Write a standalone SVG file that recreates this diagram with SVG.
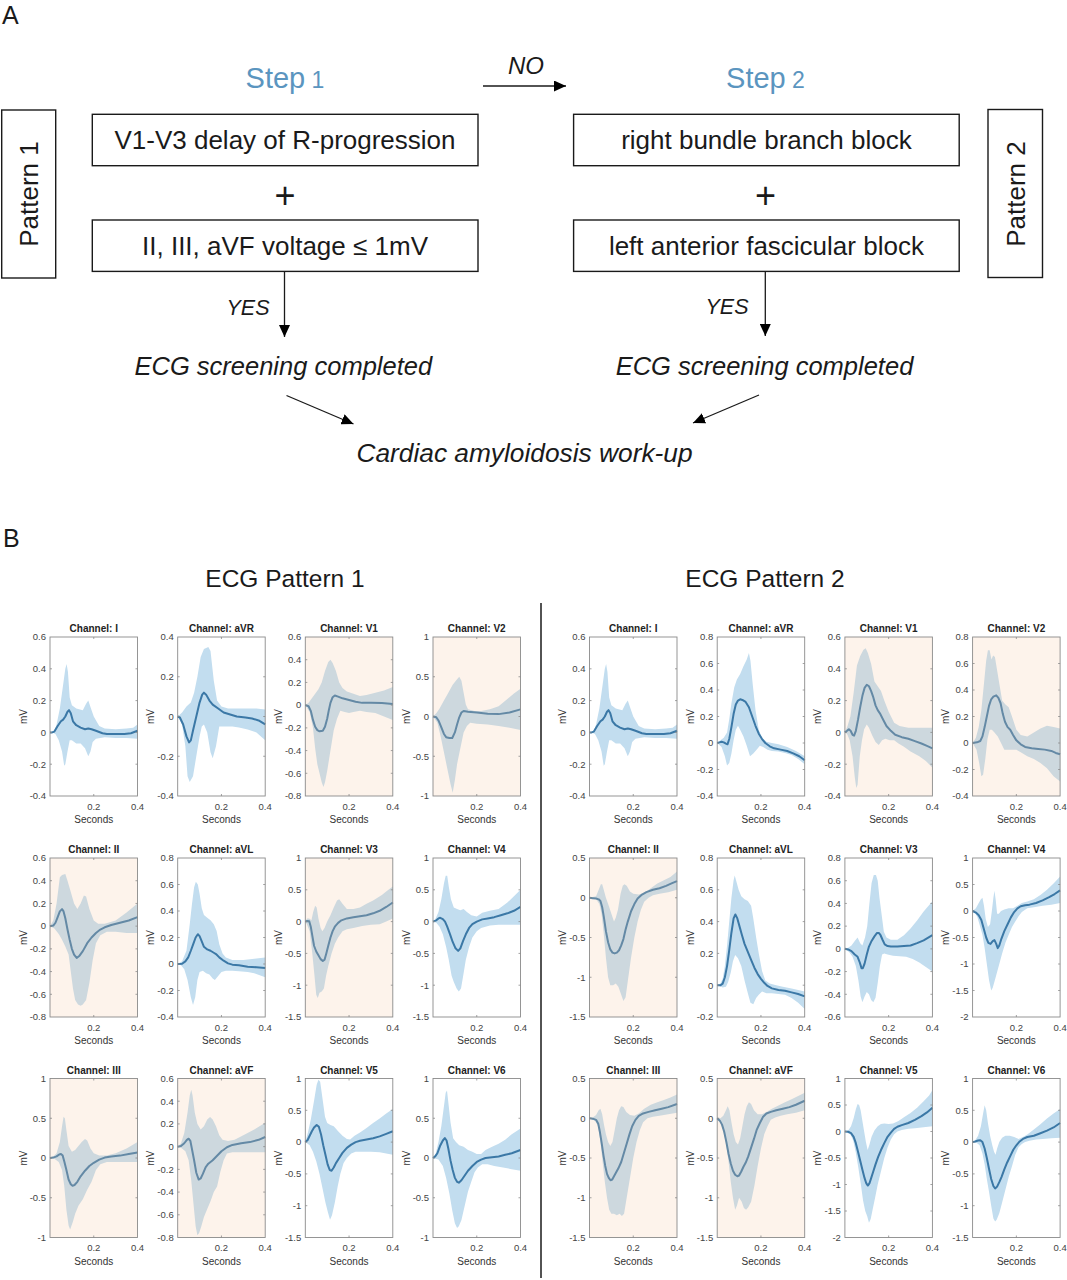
<svg xmlns="http://www.w3.org/2000/svg" xmlns:xlink="http://www.w3.org/1999/xlink" width="1067" height="1280" viewBox="0 0 1067 1280">
<style>
text{font-family:"Liberation Sans",Arial,sans-serif}
.box{fill:none;stroke:#1a1a1a;stroke-width:1.4}
.bt{font-size:26px;fill:#1a1a1a;text-anchor:middle}
.it{font-style:italic}
.step{fill:#5b95bf;text-anchor:middle;font-size:29px}
.cn{stroke:#1a1a1a;stroke-width:1.3;fill:none;marker-end:url(#ah)}
.bd{fill:#c2ddef;stroke:none}
.mn{fill:none;stroke:#3b78a6;stroke-width:2;stroke-linejoin:round;vector-effect:non-scaling-stroke}
.pch{fill:rgb(245,200,165);opacity:0.22}
.ax{fill:none;stroke:#8a8a8a;stroke-width:0.9}
.tkm{fill:none;stroke:#8a8a8a;stroke-width:0.8}
.ttl{font-size:10px;font-weight:bold;fill:#222;text-anchor:middle}
.yt{font-size:9.5px;fill:#444;text-anchor:end}
.xt{font-size:9.5px;fill:#444;text-anchor:middle}
.lab{font-size:10px;fill:#333;text-anchor:middle}
</style>
<defs>
<marker id="ah" viewBox="0 0 12 11" refX="12" refY="5.5" markerWidth="12" markerHeight="11" markerUnits="userSpaceOnUse" orient="auto"><path d="M0,0 L12,5.5 L0,11 z" fill="#000"/></marker>
<path id="tA" class="tkm" d="M0,31.8h2M0,63.6h2M0,95.4h2M0,127.2h2M87.5,31.8h-2M87.5,63.6h-2M87.5,95.4h-2M87.5,127.2h-2M43.75,159v-2M43.75,0v2"/>
<path id="tB" class="tkm" d="M0,39.75h2M0,79.5h2M0,119.25h2M87.5,39.75h-2M87.5,79.5h-2M87.5,119.25h-2M43.75,159v-2M43.75,0v2"/>
<path id="tC" class="tkm" d="M0,22.71h2M0,45.43h2M0,68.14h2M0,90.86h2M0,113.57h2M0,136.29h2M87.5,22.71h-2M87.5,45.43h-2M87.5,68.14h-2M87.5,90.86h-2M87.5,113.57h-2M87.5,136.29h-2M43.75,159v-2M43.75,0v2"/>
<path id="tE" class="tkm" d="M0,26.5h2M0,53h2M0,79.5h2M0,106h2M0,132.5h2M87.5,26.5h-2M87.5,53h-2M87.5,79.5h-2M87.5,106h-2M87.5,132.5h-2M43.75,159v-2M43.75,0v2"/>
</defs>
<rect width="1067" height="1280" fill="#fff"/>

<!-- Panel A -->
<text x="2" y="24" style="font-size:25px" fill="#1a1a1a">A</text>
<g id="step1"><text class="step" x="285" y="88">Step<tspan style="font-size:23px"> 1</tspan></text></g>
<g id="step2"><text class="step" x="765.5" y="88">Step<tspan style="font-size:23px"> 2</tspan></text></g>

<g id="pattern1"><rect class="box" x="1.7" y="110" width="54" height="168"/><text class="bt" transform="translate(38,194) rotate(-90)">Pattern 1</text></g>
<g id="pattern2"><rect class="box" x="988" y="109.5" width="54.5" height="168"/><text class="bt" transform="translate(1024.5,194) rotate(-90)">Pattern 2</text></g>

<g id="n-v1v3"><rect class="box" x="92.3" y="114.3" width="385.7" height="51.4"/><text class="bt" x="285" y="149">V1-V3 delay of R-progression</text></g>
<g id="plus1"><text class="bt" x="285" y="208" style="font-size:36px">+</text></g>
<g id="n-voltage"><rect class="box" x="92.3" y="220" width="385.7" height="51.4"/><text class="bt" x="285" y="254.5">II, III, aVF voltage ≤ 1mV</text></g>

<g id="n-rbbb"><rect class="box" x="573.6" y="114.3" width="385.6" height="51.4"/><text class="bt" x="766.4" y="149">right bundle branch block</text></g>
<g id="plus2"><text class="bt" x="765.5" y="208" style="font-size:36px">+</text></g>
<g id="n-lafb"><rect class="box" x="573.6" y="220" width="385.6" height="51.4"/><text class="bt" x="766.4" y="254.5">left anterior fascicular block</text></g>

<g id="n-ecg1"><text class="bt it" x="283.3" y="375" style="font-size:25.5px">ECG screening completed</text></g>
<g id="n-ecg2"><text class="bt it" x="764.5" y="374.5" style="font-size:25.5px">ECG screening completed</text></g>
<g id="n-ca"><text class="bt it" x="524.5" y="461.5" style="font-size:26.3px">Cardiac amyloidosis work-up</text></g>

<g id="connectors">
<line class="cn" x1="483" y1="86" x2="566" y2="86"/>
<line class="cn" x1="284.5" y1="271.4" x2="284.5" y2="337"/>
<line class="cn" x1="765.3" y1="271.4" x2="765.3" y2="336"/>
<line class="cn" x1="286.5" y1="395.5" x2="353.5" y2="424"/>
<line class="cn" x1="759" y1="395" x2="693" y2="423"/>
<text class="bt it" x="526" y="74" style="font-size:24px">NO</text>
<text class="bt it" x="248" y="315" style="font-size:21.5px">YES</text>
<text class="bt it" x="727" y="314" style="font-size:21.5px">YES</text>
</g>

<!-- Panel B -->
<text x="3" y="547" style="font-size:25px" fill="#1a1a1a">B</text>
<text class="bt" x="285" y="586.5" style="font-size:24.5px">ECG Pattern 1</text>
<text class="bt" x="765" y="586.5" style="font-size:24.5px">ECG Pattern 2</text>
<line x1="541" y1="603" x2="541" y2="1278" stroke="#1a1a1a" stroke-width="1.5"/>

<!-- ===== Pattern 1 ===== -->
<g id="p1-I" transform="translate(50,637)">
<g transform="translate(0,95.4) scale(0.21875,-159)">
<polygon class="bd" points="0,0 20,0.01 30,0.05 45,0.15 60,0.3 70,0.4 76,0.43 82,0.38 90,0.22 100,0.17 120,0.15 150,0.14 165,0.18 175,0.2 185,0.16 200,0.1 225,0.04 250,0.025 300,0.02 350,0.025 380,0.03 400,0.05 400,-0.04 350,-0.035 300,-0.035 250,-0.03 210,-0.04 195,-0.06 185,-0.12 175,-0.15 160,-0.1 140,-0.07 120,-0.07 100,-0.05 90,-0.05 80,-0.12 70,-0.2 65,-0.21 55,-0.12 40,-0.05 25,-0.01 10,0"/>
<polyline class="mn" points="0,0 10,0 20,0.005 35,0.04 50,0.07 60,0.08 70,0.1 80,0.13 87,0.14 95,0.12 105,0.07 120,0.045 140,0.03 160,0.02 175,0.025 190,0.02 210,0.01 240,-0.005 260,-0.01 300,-0.01 340,-0.01 370,-0.005 400,0.01"/>
</g>
<rect class="ax" width="87.5" height="159"/><use href="#tA"/>
<text class="ttl" x="43.75" y="-5">Channel: I</text>
<text class="yt" x="-4" y="3.3">0.6</text><text class="yt" x="-4" y="35.1">0.4</text><text class="yt" x="-4" y="66.9">0.2</text><text class="yt" x="-4" y="98.7">0</text><text class="yt" x="-4" y="130.5">-0.2</text><text class="yt" x="-4" y="162.3">-0.4</text>
<text class="xt" x="43.75" y="172.6">0.2</text><text class="xt" x="87.5" y="172.6">0.4</text>
<text class="lab" x="43.75" y="186">Seconds</text><text class="lab" transform="translate(-23.5,79.5) rotate(-90)">mV</text>
</g>

<g id="p1-aVR" transform="translate(177.7,637)">
<g transform="translate(0,79.5) scale(0.21875,-198.75)">
<polygon class="bd" points="0,0 20,0.02 40,0.05 60,0.07 75,0.12 90,0.2 105,0.3 120,0.34 140,0.35 150,0.33 165,0.18 180,0.08 200,0.05 230,0.04 300,0.04 360,0.04 400,0.035 400,-0.12 360,-0.08 320,-0.065 280,-0.055 250,-0.05 210,-0.05 190,-0.05 175,-0.15 160,-0.21 150,-0.18 135,-0.08 120,-0.04 110,-0.05 100,-0.1 85,-0.2 70,-0.3 55,-0.33 45,-0.3 35,-0.15 20,-0.04"/>
<polyline class="mn" points="0,0 10,-0.005 25,-0.04 40,-0.1 52,-0.13 60,-0.12 70,-0.07 85,0 100,0.07 112,0.11 120,0.12 130,0.11 145,0.08 160,0.06 185,0.04 210,0.02 240,0.01 270,0 310,-0.005 340,-0.01 370,-0.02 400,-0.04"/>
</g>
<rect class="ax" width="87.5" height="159"/><use href="#tB"/>
<text class="ttl" x="43.75" y="-5">Channel: aVR</text>
<text class="yt" x="-4" y="3.3">0.4</text><text class="yt" x="-4" y="43.05">0.2</text><text class="yt" x="-4" y="82.8">0</text><text class="yt" x="-4" y="122.55">-0.2</text><text class="yt" x="-4" y="162.3">-0.4</text>
<text class="xt" x="43.75" y="172.6">0.2</text><text class="xt" x="87.5" y="172.6">0.4</text>
<text class="lab" x="43.75" y="186">Seconds</text><text class="lab" transform="translate(-23.5,79.5) rotate(-90)">mV</text>
</g>

<g id="p1-V1" transform="translate(305.3,637)">
<g transform="translate(0,68.143) scale(0.21875,-113.571)">
<polygon class="bd" points="0,0 15,0.02 30,0.06 45,0.1 60,0.14 75,0.2 90,0.3 105,0.38 115,0.4 125,0.37 140,0.3 155,0.2 170,0.15 190,0.12 220,0.1 250,0.08 280,0.09 320,0.11 360,0.13 400,0.16 400,-0.13 360,-0.1 320,-0.07 280,-0.06 250,-0.05 220,-0.06 200,-0.07 180,-0.06 160,-0.05 145,-0.12 130,-0.22 115,-0.4 100,-0.58 90,-0.68 83,-0.72 75,-0.68 65,-0.6 55,-0.52 45,-0.38 35,-0.2 20,-0.06"/>
<polyline class="mn" points="0,0 15,-0.01 25,-0.05 35,-0.13 45,-0.19 55,-0.22 65,-0.23 80,-0.225 90,-0.19 100,-0.12 108,-0.04 115,0.02 125,0.07 135,0.085 150,0.075 170,0.06 200,0.045 230,0.03 260,0.02 300,0.02 350,0.018 400,0.01"/>
</g>
<rect class="pch" width="87.5" height="159"/>
<rect class="ax" width="87.5" height="159"/><use href="#tC"/>
<text class="ttl" x="43.75" y="-5">Channel: V1</text>
<text class="yt" x="-4" y="3.3">0.6</text><text class="yt" x="-4" y="26">0.4</text><text class="yt" x="-4" y="48.7">0.2</text><text class="yt" x="-4" y="71.4">0</text><text class="yt" x="-4" y="94.2">-0.2</text><text class="yt" x="-4" y="116.9">-0.4</text><text class="yt" x="-4" y="139.6">-0.6</text><text class="yt" x="-4" y="162.3">-0.8</text>
<text class="xt" x="43.75" y="172.6">0.2</text><text class="xt" x="87.5" y="172.6">0.4</text>
<text class="lab" x="43.75" y="186">Seconds</text><text class="lab" transform="translate(-23.5,79.5) rotate(-90)">mV</text>
</g>

<g id="p1-V2" transform="translate(433,637)">
<g transform="translate(0,79.5) scale(0.21875,-79.5)">
<polygon class="bd" points="0,0 15,0.04 30,0.1 50,0.2 70,0.3 90,0.4 110,0.47 120,0.5 130,0.45 140,0.3 150,0.15 160,0.09 190,0.07 220,0.07 260,0.09 300,0.13 340,0.22 370,0.29 400,0.35 400,-0.17 350,-0.14 300,-0.12 250,-0.1 200,-0.09 170,-0.08 155,-0.12 140,-0.2 125,-0.4 110,-0.6 100,-0.8 90,-0.96 80,-0.85 65,-0.65 50,-0.45 35,-0.25 20,-0.08"/>
<polyline class="mn" points="0,0 15,-0.01 25,-0.05 40,-0.15 50,-0.22 60,-0.26 75,-0.27 88,-0.27 100,-0.2 110,-0.1 120,-0.01 130,0.05 140,0.07 160,0.06 200,0.05 250,0.035 300,0.03 350,0.05 400,0.09"/>
</g>
<rect class="pch" width="87.5" height="159"/>
<rect class="ax" width="87.5" height="159"/><use href="#tB"/>
<text class="ttl" x="43.75" y="-5">Channel: V2</text>
<text class="yt" x="-4" y="3.3">1</text><text class="yt" x="-4" y="43.05">0.5</text><text class="yt" x="-4" y="82.8">0</text><text class="yt" x="-4" y="122.55">-0.5</text><text class="yt" x="-4" y="162.3">-1</text>
<text class="xt" x="43.75" y="172.6">0.2</text><text class="xt" x="87.5" y="172.6">0.4</text>
<text class="lab" x="43.75" y="186">Seconds</text><text class="lab" transform="translate(-23.5,79.5) rotate(-90)">mV</text>
</g>

<g id="p1-II" transform="translate(50,858)">
<g transform="translate(0,68.143) scale(0.21875,-113.571)">
<polygon class="bd" points="0,0 15,0.05 30,0.2 45,0.43 55,0.45 70,0.46 80,0.4 95,0.3 110,0.2 125,0.15 140,0.2 155,0.27 165,0.26 180,0.15 200,0.05 220,0.02 250,0.02 300,0.05 350,0.12 400,0.2 400,-0.06 350,-0.06 300,-0.05 260,-0.05 230,-0.08 210,-0.15 195,-0.3 180,-0.5 165,-0.65 150,-0.69 140,-0.7 128,-0.69 115,-0.65 105,-0.55 95,-0.4 85,-0.25 70,-0.18 55,-0.12 40,-0.07 20,-0.02"/>
<polyline class="mn" points="0,0 15,0.005 25,0.03 35,0.08 45,0.13 55,0.15 62,0.13 70,0.07 80,-0.03 90,-0.12 100,-0.2 110,-0.25 122,-0.28 135,-0.26 150,-0.22 170,-0.15 190,-0.1 210,-0.06 230,-0.03 250,-0.01 280,0.01 320,0.03 360,0.05 400,0.08"/>
</g>
<rect class="pch" width="87.5" height="159"/>
<rect class="ax" width="87.5" height="159"/><use href="#tC"/>
<text class="ttl" x="43.75" y="-5">Channel: II</text>
<text class="yt" x="-4" y="3.3">0.6</text><text class="yt" x="-4" y="26">0.4</text><text class="yt" x="-4" y="48.7">0.2</text><text class="yt" x="-4" y="71.4">0</text><text class="yt" x="-4" y="94.2">-0.2</text><text class="yt" x="-4" y="116.9">-0.4</text><text class="yt" x="-4" y="139.6">-0.6</text><text class="yt" x="-4" y="162.3">-0.8</text>
<text class="xt" x="43.75" y="172.6">0.2</text><text class="xt" x="87.5" y="172.6">0.4</text>
<text class="lab" x="43.75" y="186">Seconds</text><text class="lab" transform="translate(-23.5,79.5) rotate(-90)">mV</text>
</g>

<g id="p1-aVL" transform="translate(177.7,858)">
<g transform="translate(0,106) scale(0.21875,-132.5)">
<polygon class="bd" points="0,0 20,0.02 40,0.1 55,0.3 65,0.45 75,0.58 83,0.62 92,0.6 100,0.53 110,0.42 120,0.37 135,0.35 150,0.33 165,0.3 178,0.25 190,0.15 205,0.08 220,0.05 250,0.03 300,0.03 350,0.04 400,0.05 400,-0.1 350,-0.07 320,-0.06 280,-0.055 250,-0.05 220,-0.05 200,-0.06 185,-0.09 170,-0.12 160,-0.11 145,-0.08 130,-0.07 115,-0.05 100,-0.06 90,-0.12 80,-0.25 70,-0.31 60,-0.25 45,-0.12 30,-0.04 15,-0.01"/>
<polyline class="mn" points="0,0 20,0.002 35,0.02 48,0.05 60,0.1 71,0.15 82,0.2 92,0.225 100,0.21 110,0.17 120,0.13 135,0.11 150,0.1 165,0.085 175,0.075 190,0.05 210,0.025 230,0.005 250,-0.005 280,-0.01 320,-0.02 360,-0.025 400,-0.03"/>
</g>
<rect class="ax" width="87.5" height="159"/><use href="#tE"/>
<text class="ttl" x="43.75" y="-5">Channel: aVL</text>
<text class="yt" x="-4" y="3.3">0.8</text><text class="yt" x="-4" y="29.8">0.6</text><text class="yt" x="-4" y="56.3">0.4</text><text class="yt" x="-4" y="82.8">0.2</text><text class="yt" x="-4" y="109.3">0</text><text class="yt" x="-4" y="135.8">-0.2</text><text class="yt" x="-4" y="162.3">-0.4</text>
<text class="xt" x="43.75" y="172.6">0.2</text><text class="xt" x="87.5" y="172.6">0.4</text>
<text class="lab" x="43.75" y="186">Seconds</text><text class="lab" transform="translate(-23.5,79.5) rotate(-90)">mV</text>
</g>

<g id="p1-V3" transform="translate(305.3,858)">
<g transform="translate(0,63.6) scale(0.21875,-63.6)">
<polygon class="bd" points="0,0 8,0.05 18,0.05 28,0.02 36,0.15 45,0.25 52,0.22 60,0.05 70,-0.1 78,-0.15 88,-0.1 100,0 115,0.1 130,0.22 145,0.33 155,0.35 170,0.28 190,0.2 220,0.2 250,0.22 280,0.28 310,0.33 350,0.42 380,0.5 400,0.55 400,0.05 370,0 340,-0.04 300,-0.05 260,-0.07 220,-0.1 190,-0.12 170,-0.15 150,-0.25 135,-0.35 120,-0.5 105,-0.7 95,-0.85 85,-1.05 75,-1.1 65,-1.12 57,-1.2 50,-1.15 42,-0.85 32,-0.5 20,-0.15 8,-0.05"/>
<polyline class="mn" points="0,0 8,0.01 18,0.005 25,-0.08 32,-0.22 40,-0.38 50,-0.47 60,-0.53 70,-0.59 80,-0.62 88,-0.6 96,-0.5 105,-0.38 115,-0.25 125,-0.15 135,-0.08 150,-0.02 165,0.02 190,0.05 220,0.07 250,0.085 280,0.1 310,0.13 340,0.17 370,0.23 400,0.3"/>
</g>
<rect class="pch" width="87.5" height="159"/>
<rect class="ax" width="87.5" height="159"/><use href="#tA"/>
<text class="ttl" x="43.75" y="-5">Channel: V3</text>
<text class="yt" x="-4" y="3.3">1</text><text class="yt" x="-4" y="35.1">0.5</text><text class="yt" x="-4" y="66.9">0</text><text class="yt" x="-4" y="98.7">-0.5</text><text class="yt" x="-4" y="130.5">-1</text><text class="yt" x="-4" y="162.3">-1.5</text>
<text class="xt" x="43.75" y="172.6">0.2</text><text class="xt" x="87.5" y="172.6">0.4</text>
<text class="lab" x="43.75" y="186">Seconds</text><text class="lab" transform="translate(-23.5,79.5) rotate(-90)">mV</text>
</g>

<g id="p1-V4" transform="translate(433,858)">
<g transform="translate(0,63.6) scale(0.21875,-63.6)">
<polygon class="bd" points="0,0 12,0.05 25,0.15 38,0.35 50,0.6 58,0.72 65,0.72 72,0.55 82,0.35 95,0.22 110,0.2 125,0.18 140,0.2 155,0.15 175,0.1 200,0.08 225,0.14 260,0.17 300,0.2 340,0.3 370,0.4 400,0.5 400,-0.05 350,-0.05 300,-0.05 260,-0.06 220,-0.1 200,-0.15 180,-0.25 165,-0.4 150,-0.6 138,-0.85 128,-1.05 118,-1.1 108,-1.05 95,-0.95 85,-0.85 72,-0.6 60,-0.4 45,-0.2 30,-0.08 15,-0.02"/>
<polyline class="mn" points="0,0 15,0.02 25,0.05 33,0.06 45,0.04 55,0 65,-0.08 78,-0.2 90,-0.32 103,-0.42 115,-0.46 125,-0.42 138,-0.3 150,-0.2 165,-0.1 180,-0.04 200,0 225,0.035 250,0.05 280,0.07 310,0.1 340,0.13 370,0.17 400,0.23"/>
</g>
<rect class="ax" width="87.5" height="159"/><use href="#tA"/>
<text class="ttl" x="43.75" y="-5">Channel: V4</text>
<text class="yt" x="-4" y="3.3">1</text><text class="yt" x="-4" y="35.1">0.5</text><text class="yt" x="-4" y="66.9">0</text><text class="yt" x="-4" y="98.7">-0.5</text><text class="yt" x="-4" y="130.5">-1</text><text class="yt" x="-4" y="162.3">-1.5</text>
<text class="xt" x="43.75" y="172.6">0.2</text><text class="xt" x="87.5" y="172.6">0.4</text>
<text class="lab" x="43.75" y="186">Seconds</text><text class="lab" transform="translate(-23.5,79.5) rotate(-90)">mV</text>
</g>

<g id="p1-III" transform="translate(50,1078.5)">
<g transform="translate(0,79.5) scale(0.21875,-79.5)">
<polygon class="bd" points="0,0 15,0.02 30,0.06 45,0.2 55,0.4 62,0.52 68,0.5 75,0.35 85,0.15 100,0.08 115,0.1 130,0.15 145,0.2 160,0.24 170,0.22 185,0.12 200,0.06 225,0.03 260,0.03 300,0.06 350,0.12 400,0.2 400,-0.05 350,-0.05 300,-0.05 260,-0.05 230,-0.08 210,-0.15 190,-0.3 170,-0.4 150,-0.52 130,-0.6 115,-0.7 105,-0.8 92,-0.9 85,-0.85 75,-0.65 65,-0.35 55,-0.15 40,-0.05 20,-0.01"/>
<polyline class="mn" points="0,0 15,0.005 30,0.02 42,0.045 50,0.05 58,0.03 66,-0.05 75,-0.15 85,-0.27 95,-0.33 103,-0.35 112,-0.34 125,-0.3 140,-0.23 160,-0.16 180,-0.1 200,-0.06 225,-0.02 250,0.005 280,0.02 320,0.03 360,0.05 400,0.07"/>
</g>
<rect class="pch" width="87.5" height="159"/>
<rect class="ax" width="87.5" height="159"/><use href="#tB"/>
<text class="ttl" x="43.75" y="-5">Channel: III</text>
<text class="yt" x="-4" y="3.3">1</text><text class="yt" x="-4" y="43.05">0.5</text><text class="yt" x="-4" y="82.8">0</text><text class="yt" x="-4" y="122.55">-0.5</text><text class="yt" x="-4" y="162.3">-1</text>
<text class="xt" x="43.75" y="172.6">0.2</text><text class="xt" x="87.5" y="172.6">0.4</text>
<text class="lab" x="43.75" y="186">Seconds</text><text class="lab" transform="translate(-23.5,79.5) rotate(-90)">mV</text>
</g>

<g id="p1-aVF" transform="translate(177.7,1078.5)">
<g transform="translate(0,68.143) scale(0.21875,-113.571)">
<polygon class="bd" points="0,0 15,0.03 30,0.12 45,0.3 55,0.45 62,0.5 68,0.45 78,0.3 90,0.2 105,0.15 120,0.18 135,0.24 148,0.26 160,0.24 175,0.18 190,0.1 205,0.06 230,0.05 260,0.06 300,0.1 350,0.15 400,0.21 400,-0.05 350,-0.05 300,-0.05 250,-0.05 225,-0.06 210,-0.12 195,-0.22 180,-0.35 165,-0.4 150,-0.48 135,-0.55 120,-0.62 108,-0.7 98,-0.76 90,-0.78 82,-0.7 72,-0.5 62,-0.3 50,-0.12 35,-0.04 15,-0.01"/>
<polyline class="mn" points="0,0 15,0.005 30,0.03 42,0.06 50,0.07 58,0.05 66,-0.03 75,-0.12 85,-0.23 96,-0.29 105,-0.28 115,-0.24 128,-0.18 140,-0.15 160,-0.12 180,-0.08 200,-0.04 225,-0.005 250,0.015 290,0.03 330,0.04 370,0.06 400,0.085"/>
</g>
<rect class="pch" width="87.5" height="159"/>
<rect class="ax" width="87.5" height="159"/><use href="#tC"/>
<text class="ttl" x="43.75" y="-5">Channel: aVF</text>
<text class="yt" x="-4" y="3.3">0.6</text><text class="yt" x="-4" y="26">0.4</text><text class="yt" x="-4" y="48.7">0.2</text><text class="yt" x="-4" y="71.4">0</text><text class="yt" x="-4" y="94.2">-0.2</text><text class="yt" x="-4" y="116.9">-0.4</text><text class="yt" x="-4" y="139.6">-0.6</text><text class="yt" x="-4" y="162.3">-0.8</text>
<text class="xt" x="43.75" y="172.6">0.2</text><text class="xt" x="87.5" y="172.6">0.4</text>
<text class="lab" x="43.75" y="186">Seconds</text><text class="lab" transform="translate(-23.5,79.5) rotate(-90)">mV</text>
</g>

<g id="p1-V5" transform="translate(305.3,1078.5)">
<g transform="translate(0,63.6) scale(0.21875,-63.6)">
<polygon class="bd" points="0,0 12,0.15 25,0.35 40,0.65 52,0.9 60,0.98 68,0.95 78,0.7 90,0.4 100,0.3 115,0.27 130,0.25 150,0.17 170,0.1 190,0.05 205,0.04 225,0.1 250,0.15 280,0.22 310,0.3 340,0.37 370,0.45 400,0.52 400,-0.2 370,-0.18 340,-0.16 300,-0.15 260,-0.15 230,-0.15 210,-0.18 190,-0.25 175,-0.33 160,-0.5 148,-0.7 135,-0.95 122,-1.15 113,-1.22 103,-1.1 92,-0.95 80,-0.75 65,-0.5 50,-0.3 35,-0.15 20,-0.05"/>
<polyline class="mn" points="0,0 10,0.03 20,0.1 30,0.17 40,0.23 52,0.27 62,0.24 72,0.12 82,-0.05 92,-0.2 102,-0.35 112,-0.44 120,-0.45 130,-0.4 140,-0.33 155,-0.25 170,-0.17 190,-0.09 210,-0.04 230,0 250,0.02 280,0.04 310,0.06 340,0.09 370,0.13 400,0.17"/>
</g>
<rect class="ax" width="87.5" height="159"/><use href="#tA"/>
<text class="ttl" x="43.75" y="-5">Channel: V5</text>
<text class="yt" x="-4" y="3.3">1</text><text class="yt" x="-4" y="35.1">0.5</text><text class="yt" x="-4" y="66.9">0</text><text class="yt" x="-4" y="98.7">-0.5</text><text class="yt" x="-4" y="130.5">-1</text><text class="yt" x="-4" y="162.3">-1.5</text>
<text class="xt" x="43.75" y="172.6">0.2</text><text class="xt" x="87.5" y="172.6">0.4</text>
<text class="lab" x="43.75" y="186">Seconds</text><text class="lab" transform="translate(-23.5,79.5) rotate(-90)">mV</text>
</g>

<g id="p1-V6" transform="translate(433,1078.5)">
<g transform="translate(0,79.5) scale(0.21875,-79.5)">
<polygon class="bd" points="0,0 12,0.05 25,0.2 38,0.4 50,0.65 58,0.82 64,0.85 70,0.7 80,0.45 92,0.25 105,0.2 120,0.16 140,0.14 160,0.1 180,0.08 200,0.05 220,0.05 240,0.1 270,0.14 300,0.18 330,0.23 360,0.3 400,0.37 400,-0.16 360,-0.14 320,-0.12 280,-0.1 250,-0.08 225,-0.08 205,-0.12 190,-0.18 175,-0.3 160,-0.42 145,-0.6 130,-0.78 118,-0.86 110,-0.88 100,-0.82 88,-0.66 75,-0.45 60,-0.25 45,-0.1 25,-0.02"/>
<polyline class="mn" points="0,0 10,0.02 20,0.06 32,0.15 45,0.22 54,0.25 62,0.22 70,0.12 80,-0.03 90,-0.15 100,-0.25 110,-0.3 118,-0.31 130,-0.28 145,-0.22 160,-0.16 180,-0.1 200,-0.05 220,-0.02 240,0 270,0.01 300,0.02 330,0.04 360,0.06 400,0.1"/>
</g>
<rect class="ax" width="87.5" height="159"/><use href="#tB"/>
<text class="ttl" x="43.75" y="-5">Channel: V6</text>
<text class="yt" x="-4" y="3.3">1</text><text class="yt" x="-4" y="43.05">0.5</text><text class="yt" x="-4" y="82.8">0</text><text class="yt" x="-4" y="122.55">-0.5</text><text class="yt" x="-4" y="162.3">-1</text>
<text class="xt" x="43.75" y="172.6">0.2</text><text class="xt" x="87.5" y="172.6">0.4</text>
<text class="lab" x="43.75" y="186">Seconds</text><text class="lab" transform="translate(-23.5,79.5) rotate(-90)">mV</text>
</g>

<!-- ===== Pattern 2 ===== -->
<g id="p2-I" transform="translate(589.5,637)">
<g transform="translate(0,95.4) scale(0.21875,-159)">
<polygon class="bd" points="0,0 20,0.01 30,0.05 45,0.15 60,0.3 70,0.4 76,0.43 82,0.38 90,0.22 100,0.17 120,0.15 150,0.14 165,0.18 175,0.2 185,0.16 200,0.1 225,0.04 250,0.025 300,0.02 350,0.025 380,0.03 400,0.05 400,-0.04 350,-0.035 300,-0.035 250,-0.03 210,-0.04 195,-0.06 185,-0.12 175,-0.15 160,-0.1 140,-0.07 120,-0.07 100,-0.05 90,-0.05 80,-0.12 70,-0.2 65,-0.21 55,-0.12 40,-0.05 25,-0.01 10,0"/>
<polyline class="mn" points="0,0 10,0 20,0.005 35,0.04 50,0.07 60,0.08 70,0.1 80,0.13 87,0.14 95,0.12 105,0.07 120,0.045 140,0.03 160,0.02 175,0.025 190,0.02 210,0.01 240,-0.005 260,-0.01 300,-0.01 340,-0.01 370,-0.005 400,0.01"/>
</g>
<rect class="ax" width="87.5" height="159"/><use href="#tA"/>
<text class="ttl" x="43.75" y="-5">Channel: I</text>
<text class="yt" x="-4" y="3.3">0.6</text><text class="yt" x="-4" y="35.1">0.4</text><text class="yt" x="-4" y="66.9">0.2</text><text class="yt" x="-4" y="98.7">0</text><text class="yt" x="-4" y="130.5">-0.2</text><text class="yt" x="-4" y="162.3">-0.4</text>
<text class="xt" x="43.75" y="172.6">0.2</text><text class="xt" x="87.5" y="172.6">0.4</text>
<text class="lab" x="43.75" y="186">Seconds</text><text class="lab" transform="translate(-23.5,79.5) rotate(-90)">mV</text>
</g>

<g id="p2-aVR" transform="translate(717.2,637)">
<g transform="translate(0,106) scale(0.21875,-132.5)">
<polygon class="bd" points="0,0 15,0.02 30,0.04 45,0.08 55,0.18 65,0.3 78,0.42 90,0.48 105,0.52 120,0.58 135,0.63 145,0.68 152,0.62 162,0.45 175,0.25 190,0.1 205,0.04 225,0.01 250,0 280,-0.01 320,-0.03 360,-0.06 400,-0.1 400,-0.16 370,-0.12 340,-0.09 310,-0.075 280,-0.065 250,-0.06 230,-0.05 210,-0.03 195,-0.02 180,-0.05 165,-0.08 150,-0.1 135,-0.02 120,0.05 105,0.1 95,0.13 85,0.1 75,0.02 65,-0.08 55,-0.15 45,-0.17 35,-0.1 20,-0.03"/>
<polyline class="mn" points="0,0 10,0.005 20,0.01 30,0.005 40,-0.005 47,-0.01 55,0.03 65,0.12 75,0.22 85,0.29 95,0.32 105,0.33 115,0.325 130,0.31 145,0.27 160,0.2 175,0.13 190,0.07 205,0.03 220,0 240,-0.025 260,-0.04 290,-0.05 320,-0.06 350,-0.08 375,-0.1 400,-0.13"/>
</g>
<rect class="ax" width="87.5" height="159"/><use href="#tE"/>
<text class="ttl" x="43.75" y="-5">Channel: aVR</text>
<text class="yt" x="-4" y="3.3">0.8</text><text class="yt" x="-4" y="29.8">0.6</text><text class="yt" x="-4" y="56.3">0.4</text><text class="yt" x="-4" y="82.8">0.2</text><text class="yt" x="-4" y="109.3">0</text><text class="yt" x="-4" y="135.8">-0.2</text><text class="yt" x="-4" y="162.3">-0.4</text>
<text class="xt" x="43.75" y="172.6">0.2</text><text class="xt" x="87.5" y="172.6">0.4</text>
<text class="lab" x="43.75" y="186">Seconds</text><text class="lab" transform="translate(-23.5,79.5) rotate(-90)">mV</text>
</g>

<g id="p2-V1" transform="translate(844.9,637)">
<g transform="translate(0,95.4) scale(0.21875,-159)">
<polygon class="bd" points="0,0 12,0.04 25,0.1 40,0.25 55,0.42 70,0.48 85,0.52 95,0.53 105,0.5 120,0.43 135,0.32 150,0.29 165,0.26 180,0.2 200,0.13 225,0.06 250,0.04 290,0.03 340,0.03 400,0.03 400,-0.22 370,-0.18 340,-0.15 300,-0.12 270,-0.09 245,-0.07 225,-0.05 205,-0.05 185,-0.04 170,-0.05 155,-0.08 140,-0.06 125,-0.02 110,0.03 100,0.05 88,0.02 78,-0.05 68,-0.15 58,-0.33 52,-0.35 45,-0.28 35,-0.15 22,-0.05 10,-0.01"/>
<polyline class="mn" points="0,0 10,0.01 18,0.02 26,0.01 35,-0.015 42,-0.02 50,0.01 60,0.08 70,0.16 80,0.23 90,0.28 100,0.3 110,0.29 120,0.26 130,0.22 140,0.17 150,0.14 160,0.12 175,0.08 190,0.04 210,0.01 230,-0.015 260,-0.03 290,-0.04 320,-0.055 350,-0.07 375,-0.085 400,-0.1"/>
</g>
<rect class="pch" width="87.5" height="159"/>
<rect class="ax" width="87.5" height="159"/><use href="#tA"/>
<text class="ttl" x="43.75" y="-5">Channel: V1</text>
<text class="yt" x="-4" y="3.3">0.6</text><text class="yt" x="-4" y="35.1">0.4</text><text class="yt" x="-4" y="66.9">0.2</text><text class="yt" x="-4" y="98.7">0</text><text class="yt" x="-4" y="130.5">-0.2</text><text class="yt" x="-4" y="162.3">-0.4</text>
<text class="xt" x="43.75" y="172.6">0.2</text><text class="xt" x="87.5" y="172.6">0.4</text>
<text class="lab" x="43.75" y="186">Seconds</text><text class="lab" transform="translate(-23.5,79.5) rotate(-90)">mV</text>
</g>

<g id="p2-V2" transform="translate(972.6,637)">
<g transform="translate(0,106) scale(0.21875,-132.5)">
<polygon class="bd" points="0,0 15,0.04 28,0.12 40,0.25 52,0.45 62,0.62 70,0.7 78,0.7 86,0.63 94,0.66 102,0.65 112,0.55 122,0.45 135,0.32 150,0.29 165,0.27 180,0.2 200,0.1 220,0.06 250,0.05 280,0.08 310,0.11 340,0.13 370,0.12 400,0.11 400,-0.29 370,-0.25 340,-0.19 310,-0.15 280,-0.12 250,-0.1 220,-0.07 200,-0.05 180,-0.05 160,-0.05 145,-0.05 130,0 115,0.05 100,0.08 88,0.1 78,0.1 68,0.03 58,-0.12 48,-0.24 40,-0.25 30,-0.15 18,-0.05"/>
<polyline class="mn" points="0,0 20,0.005 35,0.015 45,0.05 55,0.12 65,0.2 75,0.28 85,0.33 95,0.35 108,0.36 118,0.34 128,0.3 138,0.22 148,0.16 160,0.12 172,0.1 185,0.06 200,0.02 220,-0.01 240,-0.03 270,-0.04 300,-0.045 330,-0.05 360,-0.06 380,-0.075 400,-0.085"/>
</g>
<rect class="pch" width="87.5" height="159"/>
<rect class="ax" width="87.5" height="159"/><use href="#tE"/>
<text class="ttl" x="43.75" y="-5">Channel: V2</text>
<text class="yt" x="-4" y="3.3">0.8</text><text class="yt" x="-4" y="29.8">0.6</text><text class="yt" x="-4" y="56.3">0.4</text><text class="yt" x="-4" y="82.8">0.2</text><text class="yt" x="-4" y="109.3">0</text><text class="yt" x="-4" y="135.8">-0.2</text><text class="yt" x="-4" y="162.3">-0.4</text>
<text class="xt" x="43.75" y="172.6">0.2</text><text class="xt" x="87.5" y="172.6">0.4</text>
<text class="lab" x="43.75" y="186">Seconds</text><text class="lab" transform="translate(-23.5,79.5) rotate(-90)">mV</text>
</g>

<g id="p2-II" transform="translate(589.5,858)">
<g transform="translate(0,39.75) scale(0.21875,-79.5)">
<polygon class="bd" points="0,0 15,0.01 30,0.02 42,0.1 52,0.17 58,0.17 65,0.1 75,0 88,-0.1 100,-0.2 112,-0.3 120,-0.25 130,-0.15 142,0.05 152,0.15 160,0.17 170,0.15 185,0.08 200,0.05 225,0.04 250,0.06 280,0.12 310,0.18 340,0.22 370,0.26 400,0.33 400,0.1 360,0.07 320,0.05 290,0.03 270,0 250,-0.05 235,-0.15 220,-0.3 205,-0.5 190,-0.75 175,-1.05 165,-1.25 155,-1.3 145,-1.22 132,-1.12 120,-1.08 108,-1.1 95,-1.1 85,-1 75,-0.75 65,-0.45 55,-0.2 45,-0.08 30,-0.02"/>
<polyline class="mn" points="0,0 15,-0.005 30,-0.01 42,-0.02 50,-0.04 58,-0.12 66,-0.25 75,-0.42 85,-0.56 95,-0.65 105,-0.69 115,-0.7 125,-0.69 135,-0.66 145,-0.6 155,-0.52 165,-0.4 175,-0.3 190,-0.17 205,-0.08 220,-0.01 240,0.04 260,0.07 290,0.1 320,0.12 350,0.15 375,0.18 400,0.21"/>
</g>
<rect class="pch" width="87.5" height="159"/>
<rect class="ax" width="87.5" height="159"/><use href="#tB"/>
<text class="ttl" x="43.75" y="-5">Channel: II</text>
<text class="yt" x="-4" y="3.3">0.5</text><text class="yt" x="-4" y="43.05">0</text><text class="yt" x="-4" y="82.8">-0.5</text><text class="yt" x="-4" y="122.55">-1</text><text class="yt" x="-4" y="162.3">-1.5</text>
<text class="xt" x="43.75" y="172.6">0.2</text><text class="xt" x="87.5" y="172.6">0.4</text>
<text class="lab" x="43.75" y="186">Seconds</text><text class="lab" transform="translate(-23.5,79.5) rotate(-90)">mV</text>
</g>

<g id="p2-aVL" transform="translate(717.2,858)">
<g transform="translate(0,127.2) scale(0.21875,-159)">
<polygon class="bd" points="0,0 15,0.01 25,0.04 35,0.12 45,0.25 55,0.4 65,0.55 75,0.66 80,0.69 88,0.65 98,0.6 110,0.56 125,0.54 140,0.53 155,0.5 165,0.42 178,0.3 190,0.2 205,0.09 220,0.03 240,0.01 270,0 300,-0.01 340,-0.02 370,-0.03 400,-0.04 400,-0.15 370,-0.11 340,-0.08 310,-0.06 280,-0.055 250,-0.05 225,-0.05 205,-0.04 190,-0.06 178,-0.08 165,-0.12 152,-0.11 140,-0.05 125,0.03 110,0.12 95,0.17 82,0.19 72,0.15 62,0.08 50,0.02 40,-0.01 25,-0.015 10,-0.005"/>
<polyline class="mn" points="0,0 15,0 25,0.01 35,0.05 45,0.12 55,0.22 65,0.33 75,0.42 83,0.445 92,0.42 102,0.37 112,0.32 125,0.26 140,0.21 155,0.16 170,0.11 185,0.07 200,0.04 215,0.015 230,-0.005 250,-0.02 280,-0.03 310,-0.035 340,-0.045 370,-0.055 400,-0.07"/>
</g>
<rect class="ax" width="87.5" height="159"/><use href="#tA"/>
<text class="ttl" x="43.75" y="-5">Channel: aVL</text>
<text class="yt" x="-4" y="3.3">0.8</text><text class="yt" x="-4" y="35.1">0.6</text><text class="yt" x="-4" y="66.9">0.4</text><text class="yt" x="-4" y="98.7">0.2</text><text class="yt" x="-4" y="130.5">0</text><text class="yt" x="-4" y="162.3">-0.2</text>
<text class="xt" x="43.75" y="172.6">0.2</text><text class="xt" x="87.5" y="172.6">0.4</text>
<text class="lab" x="43.75" y="186">Seconds</text><text class="lab" transform="translate(-23.5,79.5) rotate(-90)">mV</text>
</g>

<g id="p2-V3" transform="translate(844.9,858)">
<g transform="translate(0,90.857) scale(0.21875,-113.571)">
<polygon class="bd" points="0,0 15,0.01 30,0.03 45,0.07 58,0.1 70,0.05 80,0.03 92,0.1 102,0.2 112,0.4 122,0.58 132,0.65 142,0.65 150,0.6 158,0.45 168,0.3 178,0.15 190,0.1 210,0.08 240,0.08 270,0.12 300,0.18 330,0.25 360,0.33 400,0.42 400,-0.2 370,-0.16 340,-0.12 310,-0.09 280,-0.07 250,-0.065 220,-0.06 195,-0.05 180,-0.04 170,-0.05 160,-0.15 150,-0.3 140,-0.43 130,-0.47 120,-0.45 110,-0.4 100,-0.38 90,-0.42 80,-0.47 72,-0.42 62,-0.28 50,-0.15 35,-0.07 20,-0.03"/>
<polyline class="mn" points="0,0 15,-0.005 30,-0.02 45,-0.05 58,-0.07 68,-0.12 76,-0.17 82,-0.17 90,-0.13 100,-0.05 110,0.02 122,0.07 135,0.11 147,0.14 155,0.14 163,0.12 172,0.08 182,0.04 195,0.025 210,0.02 240,0.02 270,0.025 300,0.03 330,0.05 360,0.075 400,0.12"/>
</g>
<rect class="ax" width="87.5" height="159"/><use href="#tC"/>
<text class="ttl" x="43.75" y="-5">Channel: V3</text>
<text class="yt" x="-4" y="3.3">0.8</text><text class="yt" x="-4" y="26">0.6</text><text class="yt" x="-4" y="48.7">0.4</text><text class="yt" x="-4" y="71.4">0.2</text><text class="yt" x="-4" y="94.2">0</text><text class="yt" x="-4" y="116.9">-0.2</text><text class="yt" x="-4" y="139.6">-0.4</text><text class="yt" x="-4" y="162.3">-0.6</text>
<text class="xt" x="43.75" y="172.6">0.2</text><text class="xt" x="87.5" y="172.6">0.4</text>
<text class="lab" x="43.75" y="186">Seconds</text><text class="lab" transform="translate(-23.5,79.5) rotate(-90)">mV</text>
</g>

<g id="p2-V4" transform="translate(972.6,858)">
<g transform="translate(0,53) scale(0.21875,-53)">
<polygon class="bd" points="0,0 15,0.05 28,0.15 38,0.22 45,0.25 52,0.1 60,-0.15 70,-0.3 80,-0.25 88,0 95,0.25 100,0.38 106,0.2 112,-0.05 120,-0.05 130,0 145,0.03 165,0.05 185,0.05 205,0.1 225,0.15 250,0.18 280,0.22 310,0.3 340,0.4 370,0.52 400,0.65 400,0.15 360,0.12 320,0.1 280,0.07 250,0.05 225,-0.02 210,-0.1 195,-0.2 180,-0.3 165,-0.45 150,-0.6 135,-0.8 122,-1 112,-1.15 102,-1.3 92,-1.45 85,-1.5 75,-1.3 65,-1 55,-0.7 45,-0.45 35,-0.3 22,-0.12 10,-0.03"/>
<polyline class="mn" points="0,0 15,-0.03 28,-0.08 40,-0.17 52,-0.35 62,-0.5 72,-0.6 82,-0.62 92,-0.57 100,-0.55 108,-0.62 115,-0.7 122,-0.65 132,-0.52 145,-0.38 160,-0.25 175,-0.12 190,-0.02 205,0.05 220,0.09 240,0.11 260,0.12 290,0.15 320,0.2 350,0.26 375,0.32 400,0.39"/>
</g>
<rect class="ax" width="87.5" height="159"/><use href="#tE"/>
<text class="ttl" x="43.75" y="-5">Channel: V4</text>
<text class="yt" x="-4" y="3.3">1</text><text class="yt" x="-4" y="29.8">0.5</text><text class="yt" x="-4" y="56.3">0</text><text class="yt" x="-4" y="82.8">-0.5</text><text class="yt" x="-4" y="109.3">-1</text><text class="yt" x="-4" y="135.8">-1.5</text><text class="yt" x="-4" y="162.3">-2</text>
<text class="xt" x="43.75" y="172.6">0.2</text><text class="xt" x="87.5" y="172.6">0.4</text>
<text class="lab" x="43.75" y="186">Seconds</text><text class="lab" transform="translate(-23.5,79.5) rotate(-90)">mV</text>
</g>

<g id="p2-III" transform="translate(589.5,1078.5)">
<g transform="translate(0,39.75) scale(0.21875,-79.5)">
<polygon class="bd" points="0,0 15,0.01 30,0.04 42,0.1 50,0.12 58,0.05 66,-0.08 75,-0.2 85,-0.3 95,-0.35 105,-0.3 115,-0.15 125,0 135,0.1 145,0.15 155,0.14 168,0.08 185,0.04 205,0.03 225,0.06 250,0.12 280,0.17 310,0.2 340,0.23 370,0.26 400,0.3 400,0.07 360,0.05 320,0.03 290,0.02 265,0 245,-0.05 230,-0.15 215,-0.3 200,-0.5 185,-0.75 170,-1 158,-1.2 148,-1.23 138,-1.2 125,-1.22 112,-1.2 100,-1.2 90,-1.15 80,-1 70,-0.8 60,-0.55 50,-0.3 40,-0.1 25,-0.03"/>
<polyline class="mn" points="0,0 15,-0.005 30,-0.02 40,-0.07 48,-0.18 56,-0.32 64,-0.47 72,-0.6 80,-0.7 88,-0.75 96,-0.78 104,-0.77 112,-0.73 122,-0.68 132,-0.63 145,-0.55 158,-0.43 170,-0.32 183,-0.2 195,-0.1 210,-0.02 225,0.03 245,0.06 270,0.08 300,0.1 330,0.12 360,0.14 400,0.18"/>
</g>
<rect class="pch" width="87.5" height="159"/>
<rect class="ax" width="87.5" height="159"/><use href="#tB"/>
<text class="ttl" x="43.75" y="-5">Channel: III</text>
<text class="yt" x="-4" y="3.3">0.5</text><text class="yt" x="-4" y="43.05">0</text><text class="yt" x="-4" y="82.8">-0.5</text><text class="yt" x="-4" y="122.55">-1</text><text class="yt" x="-4" y="162.3">-1.5</text>
<text class="xt" x="43.75" y="172.6">0.2</text><text class="xt" x="87.5" y="172.6">0.4</text>
<text class="lab" x="43.75" y="186">Seconds</text><text class="lab" transform="translate(-23.5,79.5) rotate(-90)">mV</text>
</g>

<g id="p2-aVF" transform="translate(717.2,1078.5)">
<g transform="translate(0,39.75) scale(0.21875,-79.5)">
<polygon class="bd" points="0,0 15,0 28,0.03 40,0.1 48,0.15 56,0.1 65,-0.05 75,-0.2 85,-0.3 95,-0.33 105,-0.25 115,-0.1 125,0.05 135,0.15 145,0.2 155,0.18 168,0.1 185,0.05 205,0.05 225,0.08 250,0.12 280,0.16 310,0.2 340,0.24 370,0.28 400,0.32 400,0.1 360,0.07 320,0.05 290,0.03 265,0.01 245,-0.02 230,-0.1 215,-0.2 200,-0.38 185,-0.6 170,-0.85 155,-1.05 142,-1.12 132,-1.15 122,-1.13 112,-1.05 100,-1 90,-1.1 82,-1.15 72,-1 62,-0.8 52,-0.55 42,-0.35 28,-0.15 15,-0.05"/>
<polyline class="mn" points="0,0 12,-0.03 22,-0.08 32,-0.17 42,-0.3 52,-0.45 62,-0.57 72,-0.66 82,-0.71 92,-0.73 100,-0.72 110,-0.67 120,-0.61 130,-0.56 142,-0.48 155,-0.37 168,-0.26 180,-0.15 195,-0.06 210,0.02 225,0.06 245,0.08 270,0.1 300,0.12 330,0.14 360,0.17 400,0.22"/>
</g>
<rect class="pch" width="87.5" height="159"/>
<rect class="ax" width="87.5" height="159"/><use href="#tB"/>
<text class="ttl" x="43.75" y="-5">Channel: aVF</text>
<text class="yt" x="-4" y="3.3">0.5</text><text class="yt" x="-4" y="43.05">0</text><text class="yt" x="-4" y="82.8">-0.5</text><text class="yt" x="-4" y="122.55">-1</text><text class="yt" x="-4" y="162.3">-1.5</text>
<text class="xt" x="43.75" y="172.6">0.2</text><text class="xt" x="87.5" y="172.6">0.4</text>
<text class="lab" x="43.75" y="186">Seconds</text><text class="lab" transform="translate(-23.5,79.5) rotate(-90)">mV</text>
</g>

<g id="p2-V5" transform="translate(844.9,1078.5)">
<g transform="translate(0,53) scale(0.21875,-53)">
<polygon class="bd" points="0,0 15,0.02 28,0.1 40,0.25 50,0.42 58,0.52 65,0.5 72,0.4 80,0.2 88,0 96,-0.2 104,-0.35 112,-0.25 122,-0.1 135,0.02 150,0.1 165,0.14 180,0.15 200,0.14 220,0.15 245,0.2 270,0.27 300,0.35 330,0.45 360,0.57 385,0.68 400,0.78 400,0.1 360,0.08 320,0.06 290,0.05 260,0.03 240,0 225,-0.05 210,-0.15 195,-0.3 180,-0.5 165,-0.75 150,-1 138,-1.25 128,-1.45 118,-1.65 110,-1.72 102,-1.6 93,-1.5 83,-1.3 73,-1 62,-0.7 50,-0.4 38,-0.17 25,-0.05"/>
<polyline class="mn" points="0,0 15,-0.005 28,-0.03 40,-0.1 50,-0.22 60,-0.38 70,-0.55 80,-0.72 90,-0.88 98,-0.98 105,-1.02 112,-0.98 120,-0.88 130,-0.75 140,-0.62 152,-0.48 165,-0.35 180,-0.22 195,-0.1 210,-0.02 225,0.05 240,0.09 260,0.12 290,0.16 320,0.22 350,0.29 375,0.36 400,0.45"/>
</g>
<rect class="ax" width="87.5" height="159"/><use href="#tE"/>
<text class="ttl" x="43.75" y="-5">Channel: V5</text>
<text class="yt" x="-4" y="3.3">1</text><text class="yt" x="-4" y="29.8">0.5</text><text class="yt" x="-4" y="56.3">0</text><text class="yt" x="-4" y="82.8">-0.5</text><text class="yt" x="-4" y="109.3">-1</text><text class="yt" x="-4" y="135.8">-1.5</text><text class="yt" x="-4" y="162.3">-2</text>
<text class="xt" x="43.75" y="172.6">0.2</text><text class="xt" x="87.5" y="172.6">0.4</text>
<text class="lab" x="43.75" y="186">Seconds</text><text class="lab" transform="translate(-23.5,79.5) rotate(-90)">mV</text>
</g>

<g id="p2-V6" transform="translate(972.6,1078.5)">
<g transform="translate(0,63.6) scale(0.21875,-63.6)">
<polygon class="bd" points="0,0 12,0.03 25,0.1 38,0.25 48,0.45 55,0.58 62,0.5 70,0.3 80,0.1 90,-0.05 98,-0.15 105,-0.2 112,-0.1 122,0 135,0.07 150,0.1 170,0.1 190,0.08 210,0.05 230,0.08 250,0.12 280,0.2 310,0.28 340,0.37 370,0.45 400,0.52 400,0.07 360,0.06 320,0.05 290,0.04 260,0.02 240,0 225,-0.03 210,-0.08 195,-0.2 180,-0.38 165,-0.55 150,-0.75 135,-0.95 122,-1.12 110,-1.22 103,-1.25 95,-1.2 85,-1 75,-0.78 65,-0.58 55,-0.35 45,-0.18 32,-0.05 18,-0.01"/>
<polyline class="mn" points="0,0 12,0.01 25,0.025 35,0.03 45,0 55,-0.1 65,-0.25 75,-0.42 85,-0.58 95,-0.69 103,-0.73 112,-0.7 122,-0.63 132,-0.55 145,-0.43 158,-0.32 172,-0.22 186,-0.12 200,-0.05 215,0.01 230,0.05 250,0.08 280,0.1 310,0.14 340,0.18 370,0.23 400,0.3"/>
</g>
<rect class="ax" width="87.5" height="159"/><use href="#tA"/>
<text class="ttl" x="43.75" y="-5">Channel: V6</text>
<text class="yt" x="-4" y="3.3">1</text><text class="yt" x="-4" y="35.1">0.5</text><text class="yt" x="-4" y="66.9">0</text><text class="yt" x="-4" y="98.7">-0.5</text><text class="yt" x="-4" y="130.5">-1</text><text class="yt" x="-4" y="162.3">-1.5</text>
<text class="xt" x="43.75" y="172.6">0.2</text><text class="xt" x="87.5" y="172.6">0.4</text>
<text class="lab" x="43.75" y="186">Seconds</text><text class="lab" transform="translate(-23.5,79.5) rotate(-90)">mV</text>
</g>
</svg>
